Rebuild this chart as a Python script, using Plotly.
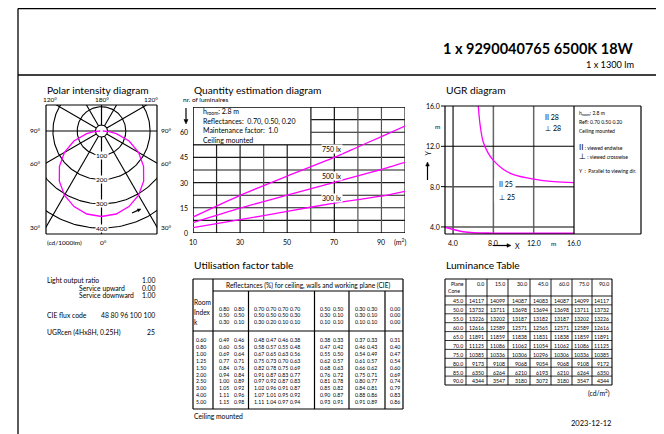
import numpy as np
import plotly.graph_objects as go

W, H = 664, 434
OFF = 8  # the page body adds an 8px margin; place everything in window pixels
FONT = "Lato, 'Open Sans', 'DejaVu Sans', sans-serif"
MAG = "#ff00ff"

# ---------------- data ----------------
title_main = "1 x 9290040765 6500K 18W"
title_sub = "1 x 1300 lm"

polar_gamma = [0, 10, 20, 30, 40, 50, 60, 70, 80, 85, 90]
polar_intensity = [352, 347, 331, 305, 270, 226, 176, 121, 62, 31, 5]
polar_ring_values = [100, 200, 300, 400]

qty_area = [10, 30, 50, 70, 80, 90, 100]
qty_750 = [9.5, 22.4, 33.9, 45.0, 51.2, 57.4, 63.6]
qty_500 = [6.2, 14.8, 22.6, 30.2, 34.0, 37.8, 42.0]
qty_300 = [3.2, 7.9, 12.9, 17.8, 19.9, 21.9, 24.8]
qty_xticks = [10, 30, 50, 70, 90]
qty_yticks = [0, 15, 30, 45, 60]

ugr_x_upper = [6.5, 6.7, 7.0, 7.5, 8.0, 9.0, 10.0, 12.0, 14.0, 16.0]
ugr_y_upper = [16.0, 14.0, 12.4, 11.3, 10.6, 9.7, 9.2, 8.75, 8.5, 8.4]
ugr_x_lower = [3.2, 4.0, 5.0, 6.0, 8.0, 12.0, 16.0]
ugr_y_lower = [3.97, 3.75, 3.52, 3.42, 3.38, 3.36, 3.36]
ugr_ticks = [4.0, 8.0, 12.0, 16.0]

lor_rows = [("Light output ratio", "1.00"), ("Service upward", "0.00"),
            ("Service downward", "1.00"), ("CIE flux code", "48 80 96 100 100"),
            ("UGRcen (4Hx8H, 0.25H)", "25")]

uf_refl_ceiling = [0.80, 0.80, 0.70, 0.70, 0.70, 0.70, 0.50, 0.50, 0.30, 0.30, 0.00]
uf_refl_walls = [0.50, 0.50, 0.50, 0.50, 0.50, 0.30, 0.30, 0.10, 0.30, 0.10, 0.00]
uf_refl_plane = [0.30, 0.10, 0.30, 0.20, 0.10, 0.10, 0.10, 0.10, 0.10, 0.10, 0.00]
uf_room_index = [0.60, 0.80, 1.00, 1.25, 1.50, 2.00, 2.50, 3.00, 4.00, 5.00]
uf_values = [
    [0.49, 0.46, 0.48, 0.47, 0.46, 0.38, 0.38, 0.33, 0.37, 0.33, 0.31],
    [0.60, 0.56, 0.58, 0.57, 0.55, 0.48, 0.47, 0.42, 0.46, 0.43, 0.40],
    [0.69, 0.64, 0.67, 0.65, 0.63, 0.56, 0.55, 0.50, 0.54, 0.49, 0.47],
    [0.77, 0.71, 0.75, 0.73, 0.70, 0.63, 0.62, 0.57, 0.61, 0.57, 0.54],
    [0.84, 0.76, 0.82, 0.78, 0.75, 0.69, 0.68, 0.63, 0.66, 0.62, 0.60],
    [0.94, 0.84, 0.91, 0.87, 0.83, 0.77, 0.76, 0.72, 0.75, 0.71, 0.69],
    [1.00, 0.89, 0.97, 0.92, 0.87, 0.83, 0.81, 0.78, 0.80, 0.77, 0.74],
    [1.05, 0.92, 1.02, 0.96, 0.91, 0.87, 0.85, 0.82, 0.84, 0.81, 0.79],
    [1.11, 0.96, 1.07, 1.01, 0.95, 0.92, 0.90, 0.87, 0.88, 0.86, 0.83],
    [1.15, 0.98, 1.11, 1.04, 0.97, 0.94, 0.93, 0.91, 0.91, 0.89, 0.86],
]

lum_planes = [0.0, 15.0, 30.0, 45.0, 60.0, 75.0, 90.0]
lum_cones = [45.0, 50.0, 55.0, 60.0, 65.0, 70.0, 75.0, 80.0, 85.0, 90.0]
lum_values = [
    [14117, 14099, 14087, 14083, 14087, 14099, 14117],
    [13732, 13711, 13698, 13694, 13698, 13711, 13732],
    [13226, 13202, 13187, 13182, 13187, 13202, 13226],
    [12616, 12589, 12571, 12565, 12571, 12589, 12616],
    [11891, 11859, 11838, 11831, 11838, 11859, 11891],
    [11125, 11086, 11062, 11054, 11062, 11086, 11125],
    [10385, 10336, 10306, 10296, 10306, 10336, 10385],
    [9173, 9108, 9068, 9054, 9068, 9108, 9172],
    [6350, 6264, 6210, 6193, 6210, 6264, 6350],
    [4344, 3547, 3180, 3072, 3180, 3547, 4344],
]
date_text = "2023-12-12"

# ---------------- helpers (coordinates in window pixels) ----------------
ann, shp = [], []


def PX(x):
    return (x - OFF) / W


def PY(y):
    return 1 - (y - OFF) / H


def T(x, y, s, size=7, xa="left", ya="middle", bold=False, bg=None, angle=0):
    d = dict(x=PX(x), y=PY(y), xref="paper", yref="paper",
             text=f"<b>{s}</b>" if bold else s, showarrow=False,
             xanchor=xa, yanchor=ya, borderpad=0, textangle=angle,
             font=dict(size=size, family=FONT, color="black"))
    if bg:
        d["bgcolor"] = bg
    ann.append(d)


def L(x0, y0, x1, y1, w=1.0, c="black", layer="above"):
    shp.append(dict(type="line", xref="paper", yref="paper", x0=PX(x0), y0=PY(y0),
                    x1=PX(x1), y1=PY(y1), line=dict(color=c, width=w), layer=layer))


def DL(xr, yr, x0, y0, x1, y1, w=1.0, c="black", layer="below"):
    shp.append(dict(type="line", xref=xr, yref=yr, x0=x0, y0=y0, x1=x1, y1=y1,
                    line=dict(color=c, width=w), layer=layer))


def DR(xr, yr, x0, y0, x1, y1, fill="white", w=0, layer="below"):
    shp.append(dict(type="rect", xref=xr, yref=yr, x0=x0, y0=y0, x1=x1, y1=y1,
                    fillcolor=fill, line=dict(width=w, color="black"), layer=layer))


def ARROW(x0, y0, x1, y1, head=4.0):
    dxp, dyp = x1 - x0, y1 - y0
    n = (dxp ** 2 + dyp ** 2) ** 0.5
    ux, uy = dxp / n, dyp / n
    bx, by = x1 - head * ux, y1 - head * uy
    L(x0, y0, bx, by, 1.2)
    p1 = (bx - uy * head * 0.45, by + ux * head * 0.45)
    p2 = (bx + uy * head * 0.45, by - ux * head * 0.45)
    path = (f"M {PX(x1)} {PY(y1)} L {PX(p1[0])} {PY(p1[1])} "
            f"L {PX(p2[0])} {PY(p2[1])} Z")
    shp.append(dict(type="path", xref="paper", yref="paper", path=path,
                    fillcolor="black", line=dict(color="black", width=0.5)))


fig = go.Figure()

# ---------------- page frame ----------------
L(18, 8.6, 18, 434, 1.3)
L(659.5, 8.6, 659.5, 434, 1.3)
L(18, 8.6, 659.5, 8.6, 1.3)
L(18, 75, 659.5, 75, 1.3)
T(635, 48, title_main, 14.5, xa="right", bold=True)
T(635, 64, title_sub, 9.2, xa="right")

# ---------------- polar diagram ----------------
T(46, 90, "Polar intensity diagram", 10.2)
PCX, PCY, PS = 101.5, 131.0, 0.2429
th = np.linspace(0, 2 * np.pi, 241)
for r in [25] + polar_ring_values + [500]:
    fig.add_trace(go.Scatter(x=r * np.cos(th), y=r * np.sin(th), mode="lines",
                             line=dict(color="black", width=1.1), hoverinfo="skip",
                             showlegend=False, xaxis="x", yaxis="y"))
for a in [0, 30, 60, 90, 120, 150, 180]:
    for s in (1, -1):
        ar = np.radians(a)
        fig.add_trace(go.Scatter(x=[s * 25 * np.sin(ar), s * 900 * np.sin(ar)],
                                 y=[-25 * np.cos(ar), -900 * np.cos(ar)], mode="lines",
                                 line=dict(color="black", width=1.1), hoverinfo="skip",
                                 showlegend=False, xaxis="x", yaxis="y"))
g = np.radians(polar_gamma)
I = np.array(polar_intensity, dtype=float)
px_ = np.concatenate([-(I * np.sin(g))[::-1], (I * np.sin(g))[1:]])
py_ = np.concatenate([-(I * np.cos(g))[::-1], -(I * np.cos(g))[1:]])
fig.add_trace(go.Scatter(x=px_, y=py_, mode="lines", line=dict(color=MAG, width=1.3),
                         hoverinfo="skip", showlegend=False, xaxis="x", yaxis="y"))
L(46, 105, 157, 105, 1.2); L(46, 234, 157, 234, 1.2)
L(46, 105, 46, 234, 1.2); L(157, 105, 157, 234, 1.2)
for v in polar_ring_values:
    T(PCX, PCY + v * PS, str(v), 6.5, xa="center", bg="white")
T(50, 99, "120°", 6.5, xa="center")
T(101.5, 99, "180°", 6.5, xa="center")
T(151, 99, "120°", 6.5, xa="center")
for lab, yy in [("90°", 131), ("60°", 163), ("30°", 227)]:
    T(42, yy, lab, 6.5, xa="right")
    T(160, yy, lab, 6.5, xa="left")
T(46, 242, "(cd/1000lm)", 6.5)
T(103, 242, "0°", 6.5, xa="center")
ARROW(132, 213, 141, 209, 3.5)

# ---------------- quantity estimation diagram ----------------
T(193, 90, "Quantity estimation diagram", 10.2)
T(182, 100, "nr. of luminaires", 6.5)
ARROW(186, 108, 186, 124, 4.5)
for k in range(1, 10):
    yv = 7.5 * k
    DL("x2", "y2", 10, yv, 100, yv, 1.1, "#1a1a1a")
grid_col = {20: "#222222", 30: "#222222", 40: "#555555", 50: "#222222", 60: "#444444",
            70: "#111111", 80: "#555555", 90: "#555555", 100: "#222222"}
for xv, c in grid_col.items():
    DL("x2", "y2", xv, 0, xv, 75, 1.2, c)
DR("x2", "y2", 10, 52.5, 60, 75)
DL("x2", "y2", 60, 52.5, 60, 75, 1.3, "#444444")
DL("x2", "y2", 10, 52.5, 60, 52.5, 1.1)
DL("x2", "y2", 10, 0, 100, 0, 1.3)
DL("x2", "y2", 10, 75, 100, 75, 1.3)
DL("x2", "y2", 10, 0, 10, 75, 1.5)
for ys in (qty_750, qty_500, qty_300):
    fig.add_trace(go.Scatter(x=qty_area, y=ys, mode="lines", line=dict(color=MAG, width=1.3, shape="spline", smoothing=0.6),
                             hoverinfo="skip", showlegend=False, xaxis="x2", yaxis="y2"))
T(332, 149, "750 lx", 7, xa="center", bg="white")
T(332, 176, "500 lx", 7, xa="center", bg="white")
T(332, 198, "300 lx", 7, xa="center", bg="white")
T(202, 112, "h<sub>room</sub>: 2.8 m", 7)
T(202, 121.5, "Reflectances:  0.70, 0.50, 0.20", 7)
T(202, 130.5, "Maintenance factor:  1.0", 7)
T(202, 139.5, "Ceiling mounted", 7)
QX0, QX1, QY0, QY1 = 193, 405, 233, 107
for v in qty_xticks:
    T(QX0 + (v - 10) * (QX1 - QX0) / 90, 242, str(v), 7, xa="center")
for v in qty_yticks:
    T(189, QY0 - v * (QY0 - QY1) / 75, str(v), 7, xa="right")
T(400, 242, "(m<sup>2</sup>)", 7, xa="center")

# ---------------- UGR diagram ----------------
T(445, 90, "UGR diagram", 10.2)
for xv, c, w in [(4, "black", 1.1), (8, "#666666", 1.5), (12, "#666666", 1.5)]:
    DL("x3", "y3", xv, 3.3, xv, 16, w, c)
for yv, c, w in [(12, "black", 1.1), (8, "#555555", 1.5), (4, "#555555", 1.5)]:
    DL("x3", "y3", 3.2, yv, 16, yv, w, c)
DR("x3", "y3", 8.08, 6.4, 10.2, 8.8)
fig.add_trace(go.Scatter(x=ugr_x_upper, y=ugr_y_upper, mode="lines", line=dict(color=MAG, width=1.3, shape="spline"),
                         hoverinfo="skip", showlegend=False, xaxis="x3", yaxis="y3"))
fig.add_trace(go.Scatter(x=ugr_x_lower, y=ugr_y_lower, mode="lines", line=dict(color=MAG, width=1.6, shape="spline"),
                         hoverinfo="skip", showlegend=False, xaxis="x3", yaxis="y3"))
UX0, UX1, UY0, UY1 = 445, 574, 234, 106
L(UX0, UY1, 641, UY1, 1.2); L(UX0, UY0, 641, UY0, 1.2)
L(UX0, UY1, UX0, UY0, 1.2); L(UX1, UY1, UX1, UY0, 1.2); L(641, UY1, 641, UY0, 1.2)
for v in ugr_ticks:
    yy = UY1 + (16 - v) * (UY0 - UY1) / 12.7
    T(441, yy, f"{v:.1f}", 7, xa="right")
    L(441, yy, 445, yy, 1.0)
    xx = UX0 + (v - 3.2) * (UX1 - UX0) / 12.8
    T(xx, 243, f"{v:.1f}", 7, xa="center")
T(438, 127, "m", 6.5, xa="center")
T(553, 243, "m", 6.5, xa="center")
T(427.5, 153, "Y", 7, xa="center", angle=-90)
ARROW(427.5, 180, 427.5, 162, 4.0)
T(517, 246, "X", 7, xa="center")
ARROW(493, 245.5, 511, 245.5, 4.0)
T(544, 117, "II 28", 7)
T(544, 128, "⊥ 28", 7)
T(498, 184, "II 25", 7)
T(498, 196.5, "⊥ 25", 7)
T(578, 113, "h<sub>room</sub>: 2.8 m", 5)
T(578, 122, "Refl: 0.70 0.50 0.20", 5)
T(578, 131, "Ceiling mounted", 5)
T(578, 146.5, "<span style='font-size:8px'>II</span> : viewed endwise", 5)
T(578, 155.5, "<span style='font-size:8px'>⊥</span> : viewed crosswise", 5)
T(578, 170.5, "Y  :  Parallel to viewing dir.", 5)

# ---------------- left text block ----------------
ly = [280, 287.5, 295, 314.5, 332]
lx = [46, 78, 78, 46, 46]
for (lab, val), yy, xx in zip(lor_rows, ly, lx):
    T(xx, yy, lab, 6.8)
    T(156, yy, val, 6.8, xa="right")

# ---------------- utilisation factor table ----------------
T(193, 265, "Utilisation factor table", 10.2)
TX0, TX1, TY0, TY1 = 193, 403, 279, 409
L(TX0, TY0, TX1, TY0, 1.2); L(TX0, TY1, TX1, TY1, 1.2)
L(TX0, TY0, TX0, TY1, 1.2); L(TX1, TY0, TX1, TY1, 1.2)
L(213, TY0, 213, TY1, 1.2)
L(213, 291, TX1, 291, 1.0)
L(TX0, 331, TX1, 331, 1.2)
for xs in [248.5, 314.5, 349, 385]:
    L(xs, 291, xs, TY1, 1.2)
T(308, 285, "Reflectances (%) for ceiling, walls and working plane (CIE)", 6.6, xa="center")
T(193.5, 301.5, "Room", 6.6)
T(193.5, 311.5, "Index", 6.6)
T(193.5, 321.5, "k", 6.6)
uf_cx = [223.7, 238.7, 258.7, 271, 283, 294.7, 324.7, 338, 359.7, 372, 395.3]
for cx, a, b, c in zip(uf_cx, uf_refl_ceiling, uf_refl_walls, uf_refl_plane):
    T(cx, 308.5, f"{a:.2f}", 5.2, xa="center")
    T(cx, 315, f"{b:.2f}", 5.2, xa="center")
    T(cx, 321.5, f"{c:.2f}", 5.2, xa="center")
for i, (k, row) in enumerate(zip(uf_room_index, uf_values)):
    yy = 340 + i * 6.9
    T(195, yy, f"{k:.2f}", 5.2)
    for cx, v in zip(uf_cx, row):
        T(cx, yy, f"{v:.2f}", 5.2, xa="center")
T(193, 416, "Ceiling mounted", 6.8)

# ---------------- luminance table ----------------
T(445, 265, "Luminance Table", 10.2)
LX = [445, 466, 487, 508, 530, 551, 572, 592, 612]
LY0, LYH, LY1 = 279, 296, 385
rh = (LY1 - LYH) / 10
for xx in LX:
    L(xx, LY0, xx, LY1, 1.1 if xx in (445, 612) else 0.9)
L(445, LY0, 612, LY0, 1.1)
L(445, LYH, 612, LYH, 0.9)
for i in range(1, 11):
    L(445, LYH + i * rh, 612, LYH + i * rh, 1.1 if i == 10 else 0.8)
T(464.5, 283.5, "Plane", 5.2, xa="right")
T(446.5, 291, "Cone", 5.2)
for j, p in enumerate(lum_planes):
    T(LX[j + 2] - 1.8, 283.5, f"{p:.1f}", 5.2, xa="right")
for i, (cone, row) in enumerate(zip(lum_cones, lum_values)):
    yy = LYH + (i + 0.6) * rh
    T(LX[1] - 1.8, yy, f"{cone:.1f}", 5.2, xa="right")
    for j, v in enumerate(row):
        T(LX[j + 2] - 1.8, yy, str(v), 5.2, xa="right")
T(611, 393, "(cd/m<sup>2</sup>)", 6.8, xa="right")

T(612, 423, date_text, 7.5, xa="right")

# ---------------- layout ----------------
hidden = dict(visible=False, showgrid=False, zeroline=False, fixedrange=True)


def dx(a, b):
    return [PX(a), PX(b)]


def dy(top, bottom):
    return [PY(bottom), PY(top)]


fig.update_layout(
    width=W, height=H, autosize=False,
    margin=dict(l=0, r=0, t=0, b=0, pad=0),
    paper_bgcolor="white", plot_bgcolor="rgba(0,0,0,0)",
    showlegend=False,
    xaxis=dict(domain=dx(46, 157), range=[-(PCX - 46) / PS, (157 - PCX) / PS], **hidden),
    yaxis=dict(domain=dy(105, 234), range=[-(234 - PCY) / PS, (PCY - 105) / PS], **hidden),
    xaxis2=dict(domain=dx(QX0, QX1), range=[10, 100], anchor="y2", **hidden),
    yaxis2=dict(domain=dy(QY1, QY0), range=[0, 75], anchor="x2", **hidden),
    xaxis3=dict(domain=dx(UX0, UX1), range=[3.2, 16.0], anchor="y3", **hidden),
    yaxis3=dict(domain=dy(UY1, UY0), range=[3.3, 16.0], anchor="x3", **hidden),
    annotations=ann, shapes=shp,
)
fig.write_html("out.html")
